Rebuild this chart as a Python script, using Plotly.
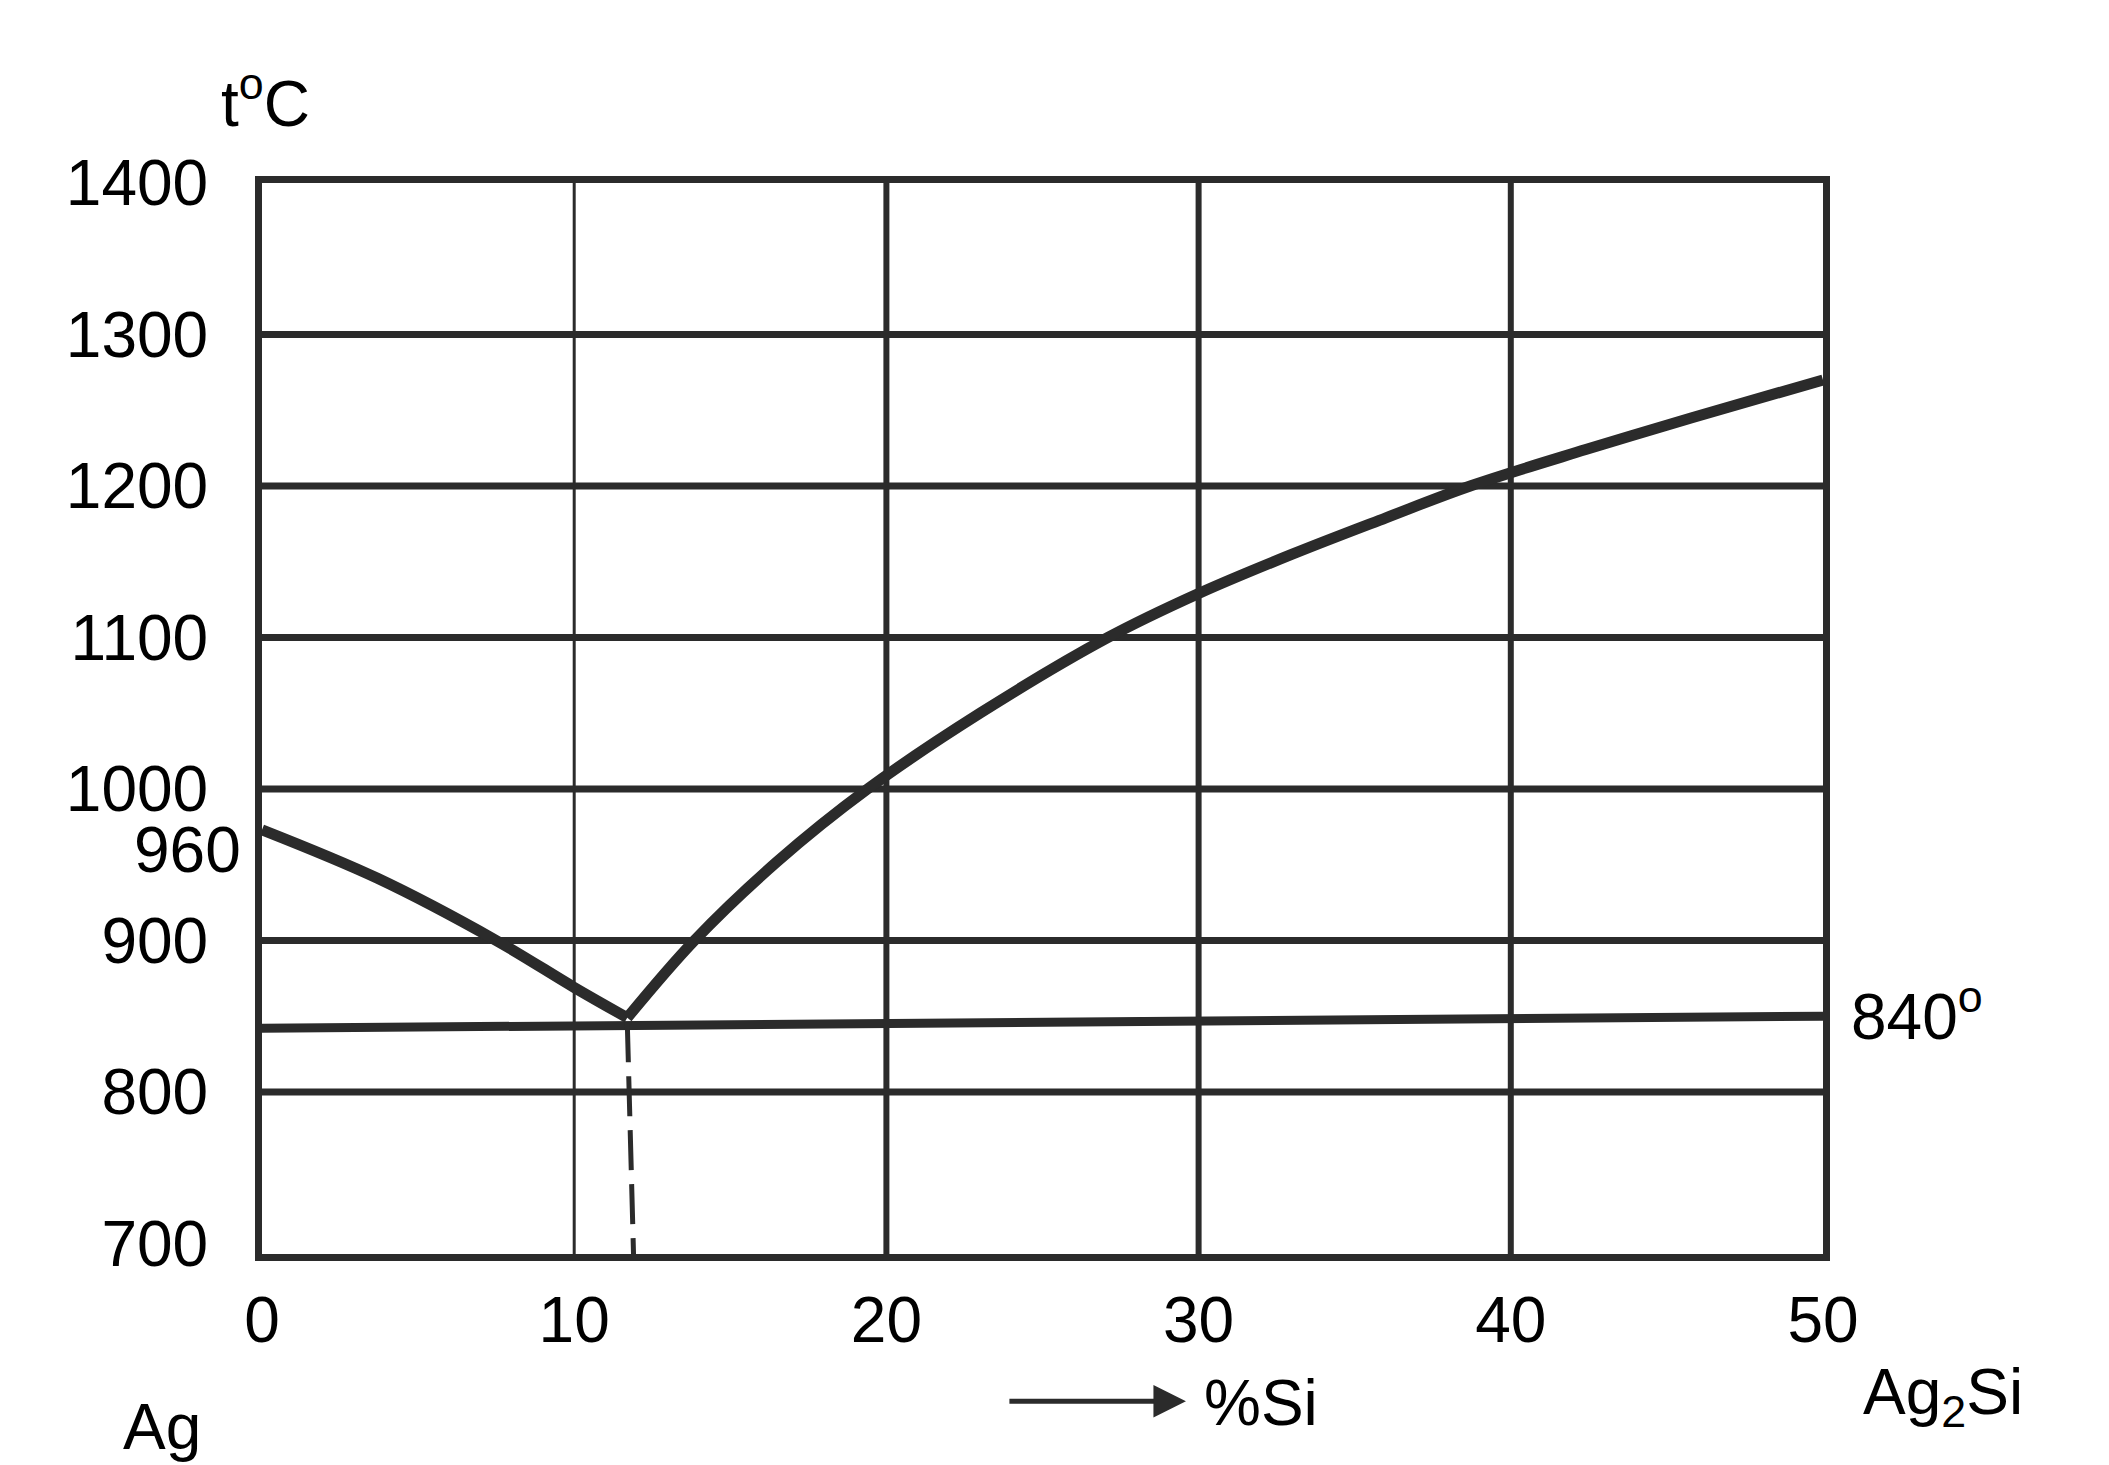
import plotly.graph_objects as go

# ---- data ----
x_ticks = [0, 10, 20, 30, 40, 50]
y_ticks = [700, 800, 900, 1000, 1100, 1200, 1300, 1400]
h_grid = [800, 900, 1000, 1100, 1200, 1300]
v_grid_thick = [20, 30, 40]
v_grid_thin = [10]

# liquidus from Ag (960) down to eutectic
left_x = [0, 3.7, 7.5, 10.0, 11.7]
left_y = [973, 941, 900, 869, 849]

# liquidus from eutectic up to Ag2Si
right_x = [11.7, 13.85, 16.5, 19.4, 23.0, 27.1, 30.0, 33.0, 36.0, 38.7, 42.4, 45.8, 50.0]
right_y = [849, 900, 952, 1000, 1050, 1100, 1129, 1155, 1179, 1200, 1224, 1245, 1270]

# eutectic horizontal (840 deg)
eut_x = [0, 50]
eut_y = [842, 850]

# dashed eutectic composition
dash_x = [11.7, 11.9]
dash_y = [846, 693]

Y_MIN, Y_MAX = 693, 1400

INK = "#2b2b2b"
FONT = "Liberation Sans, Arial, sans-serif"
FS = 64
W, H = 2109, 1465
OFF = 8  # page body margin
LW = 7   # frame line width
# wanted frame-line centres on screen: left 258, top 179, bottom 1258, right 1827
L = 258 + LW / 2 - OFF
T = 179 + LW / 2 - OFF
B = H - (1258 - LW / 2 - OFF)
R = W - (1827 - LW / 2 - OFF)


def px(xs, ys):
    """screen pixel target -> paper coordinates"""
    xp, yp = xs - OFF, ys - OFF
    return (xp - L) / (W - L - R), (H - B - yp) / (H - T - B)


def seg_lines(values, lo, hi, vertical):
    xs, ys = [], []
    for v in values:
        if vertical:
            xs += [v, v, None]
            ys += [lo, hi, None]
        else:
            xs += [lo, hi, None]
            ys += [v, v, None]
    return xs, ys


fig = go.Figure()

gx, gy = seg_lines(v_grid_thick, Y_MIN, Y_MAX, True)
fig.add_trace(go.Scatter(x=gx, y=gy, mode="lines", line=dict(color=INK, width=6), hoverinfo="skip"))
gx, gy = seg_lines(v_grid_thin, Y_MIN, Y_MAX, True)
fig.add_trace(go.Scatter(x=gx, y=gy, mode="lines", line=dict(color=INK, width=3), hoverinfo="skip"))
gx, gy = seg_lines(h_grid, 0, 50, False)
fig.add_trace(go.Scatter(x=gx, y=gy, mode="lines", line=dict(color=INK, width=7), hoverinfo="skip"))

fig.add_trace(go.Scatter(x=eut_x, y=eut_y, mode="lines", line=dict(color=INK, width=9)))
fig.add_trace(go.Scatter(x=dash_x, y=dash_y, mode="lines", line=dict(color=INK, width=5, dash="40px,14px")))
fig.add_trace(go.Scatter(x=left_x, y=left_y, mode="lines", line=dict(color=INK, width=11, shape="spline", smoothing=1.0)))
fig.add_trace(go.Scatter(x=right_x, y=right_y, mode="lines", line=dict(color=INK, width=11, shape="spline", smoothing=1.0)))

axis_common = dict(
    showgrid=False, zeroline=False, showline=True, mirror=True,
    linewidth=LW, linecolor=INK, ticks="",
    tickfont=dict(family=FONT, size=FS, color="black"),
)
fig.update_xaxes(range=[0, 50], tickvals=x_ticks, ticktext=[str(v) for v in x_ticks],
                 ticklabelstandoff=4, **axis_common)
fig.update_yaxes(range=[Y_MIN, Y_MAX], tickvals=y_ticks, ticktext=[str(v) for v in y_ticks],
                 ticklabelstandoff=34, **axis_common)

annots = [
    ("t<sup>o</sup>C", 265, 98, "center"),
    ("960", 242, 850, "right"),
    ("840<sup>o</sup>", 1850, 1012, "left"),
    ("Ag", 161, 1428, "center"),
    ("%Si", 1202, 1404, "left"),
    ("Ag<sub>2</sub>Si", 1862, 1397, "left"),
]
for text, xs_, ys_, anchor in annots:
    ax_, ay_ = px(xs_, ys_)
    fig.add_annotation(text=text, x=ax_, y=ay_, xref="paper", yref="paper",
                       xanchor=anchor, yanchor="middle", showarrow=False,
                       font=dict(family=FONT, size=FS, color="black"))

hx, hy = px(1186, 1402)
fig.add_annotation(x=hx, y=hy, xref="paper", yref="paper", text="", showarrow=True,
                   ax=-178, ay=0, arrowhead=2, arrowsize=1.3, arrowwidth=5, arrowcolor=INK)

fig.update_layout(
    width=W, height=H, autosize=False,
    margin=dict(l=L, r=R, t=T, b=B, pad=0),
    plot_bgcolor="white", paper_bgcolor="white",
    showlegend=False,
)
fig.write_html("out.html")
